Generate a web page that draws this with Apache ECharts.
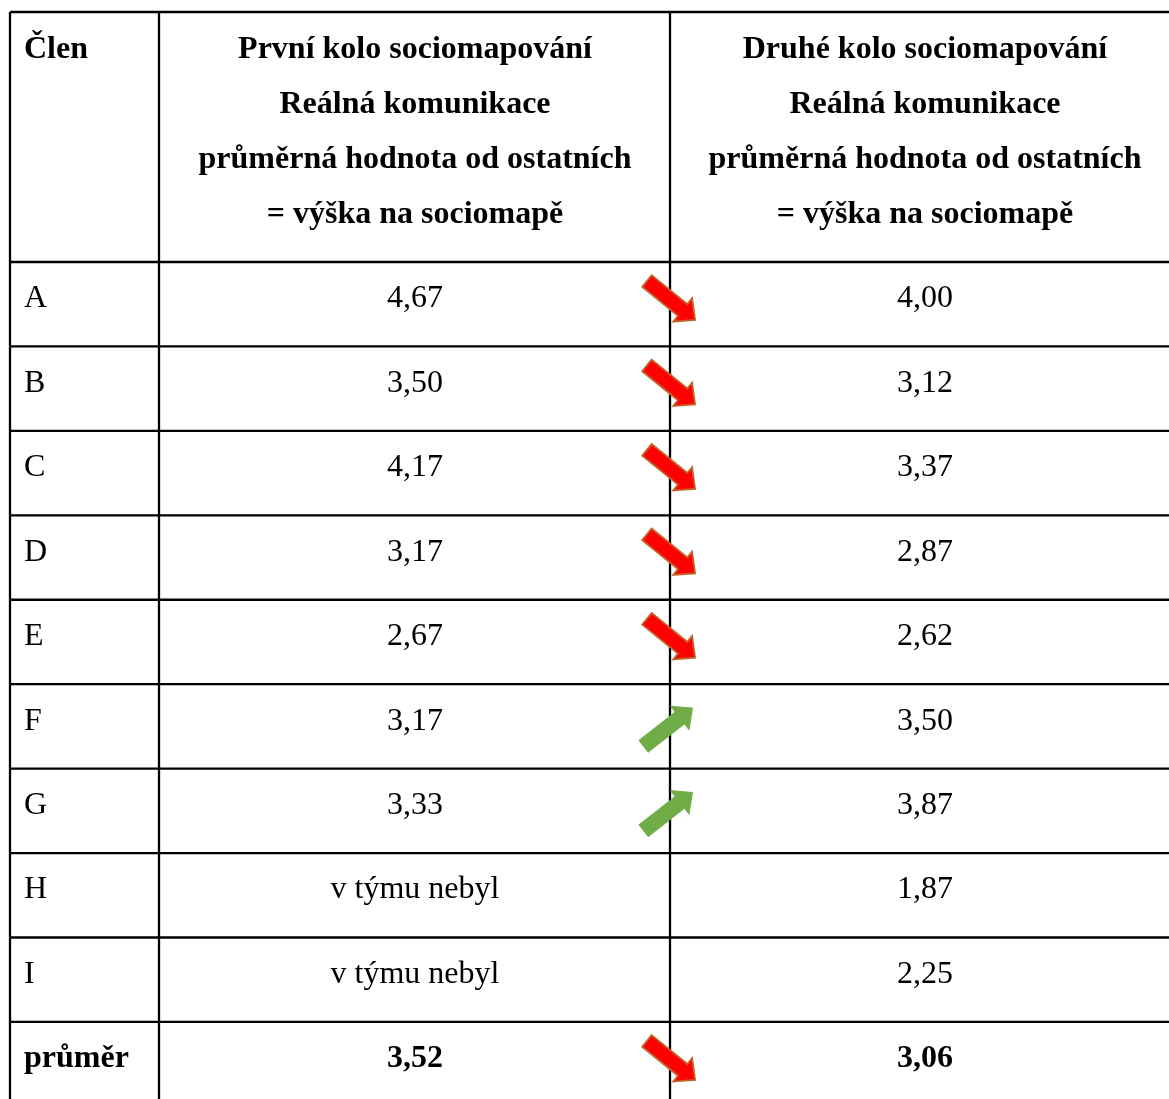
<!DOCTYPE html>
<html>
<head>
<meta charset="utf-8">
<script src="https://cdn.jsdelivr.net/npm/echarts@6/dist/echarts.min.js"></script>
<style>
  html, body { margin: 0; padding: 0; background: #fff; }
  #chart { width: 1169px; height: 1099px; }
</style>
</head>
<body>
<div id="chart"></div>
<script>
const members = ['A', 'B', 'C', 'D', 'E', 'F', 'G', 'H', 'I']
const round1 = [4.67, 3.50, 4.17, 3.17, 2.67, 3.17, 3.33, null, null]
const round2 = [4.00, 3.12, 3.37, 2.87, 2.62, 3.50, 3.87, 1.87, 2.25]
const avgLabel = 'průměr'
const avgRound1 = 3.52
const avgRound2 = 3.06
const missingLabel = 'v týmu nebyl'
const headers = [
  'Člen',
  'První kolo sociomapování\nReálná komunikace\nprůměrná hodnota od ostatních\n= výška na sociomapě',
  'Druhé kolo sociomapování\nReálná komunikace\nprůměrná hodnota od ostatních\n= výška na sociomapě'
]

// --- layout (axis units = px from grid origin) ---
const W = 1159
const HEADER_H = 250
const ROW_H = 84.44
const COL_EDGES = [0, 149, 660]
const TEXT_X = [14, 405, 915]
const FONT = '"Liberation Serif", "Times New Roman", serif'
const FS = 32
const LW = 2.3

const rows = members.map((m, i) => ({ label: m, v1: round1[i], v2: round2[i], bold: false }))
rows.push({ label: avgLabel, v1: avgRound1, v2: avgRound2, bold: true })

const fmt = v => v == null ? missingLabel : v.toFixed(2).replace('.', ',')

function arrowPts(cx, cy, ang) {
  const shape = [[-31, -7.5], [15, -7.5], [15, -15], [31, 0], [15, 15], [15, 7.5], [-31, 7.5]]
  const c = Math.cos(ang), s = Math.sin(ang)
  return shape.map(([x, y]) => [cx + x * c - y * s, cy + x * s + y * c])
}

function line(api, a, b) {
  const p = api.coord(a), q = api.coord(b)
  return { type: 'line', shape: { x1: p[0], y1: p[1], x2: q[0], y2: q[1] }, style: { stroke: '#000', lineWidth: LW } }
}

function txt(api, x, y, text, align, bold) {
  const p = api.coord([x, y])
  return {
    type: 'text',
    style: {
      text, x: p[0], y: p[1], align, verticalAlign: 'middle',
      fill: '#000', fontFamily: FONT, fontSize: FS, fontWeight: bold ? 'bold' : 'normal', lineHeight: 55
    }
  }
}

function renderHeader(params, api) {
  const children = [
    line(api, [0, 0], [W, 0]),
    ...COL_EDGES.map(x => line(api, [x, 0], [x, HEADER_H])),
    txt(api, TEXT_X[0], 38, headers[0], 'left', true),
    txt(api, TEXT_X[1], 120.5, headers[1], 'center', true),
    txt(api, TEXT_X[2], 120.5, headers[2], 'center', true)
  ]
  return { type: 'group', children }
}

function renderRow(params, api) {
  const i = params.dataIndex
  const r = rows[i]
  const top = HEADER_H + i * ROW_H
  const bot = top + ROW_H
  const cy = top + 37
  const children = [
    line(api, [0, top], [W, top]),
    ...COL_EDGES.map(x => line(api, [x, top], [x, bot])),
    txt(api, TEXT_X[0], cy, r.label, 'left', r.bold),
    txt(api, TEXT_X[1], cy, fmt(r.v1), 'center', r.bold),
    txt(api, TEXT_X[2], cy, fmt(r.v2), 'center', r.bold)
  ]
  if (r.v1 != null && r.v2 != null) {
    const down = r.v2 < r.v1
    const c = api.coord([down ? 661 : 658, top + (down ? 38.5 : 43)])
    const ang = (down ? 39 : -38) * Math.PI / 180
    children.push({
      type: 'polygon',
      shape: { points: arrowPts(c[0], c[1], ang) },
      style: down
        ? { fill: '#ff0000', stroke: '#c0662a', lineWidth: 1.8 }
        : { fill: '#70ad47', stroke: '#70ad47', lineWidth: 1 }
    })
  }
  return { type: 'group', children }
}

const chart = echarts.init(document.getElementById('chart'), null, { renderer: 'canvas' })
chart.setOption({
  animation: false,
  backgroundColor: '#fff',
  grid: { left: 10, top: 12, width: W, height: 1087 },
  xAxis: { type: 'value', min: 0, max: W, show: false },
  yAxis: { type: 'value', min: 0, max: 1087, inverse: true, show: false },
  series: [
    { type: 'custom', clip: false, renderItem: renderHeader, data: [[0, 0]] },
    { type: 'custom', clip: false, renderItem: renderRow, data: rows.map((r, i) => [0, i]) }
  ]
})
</script>
</body>
</html>
